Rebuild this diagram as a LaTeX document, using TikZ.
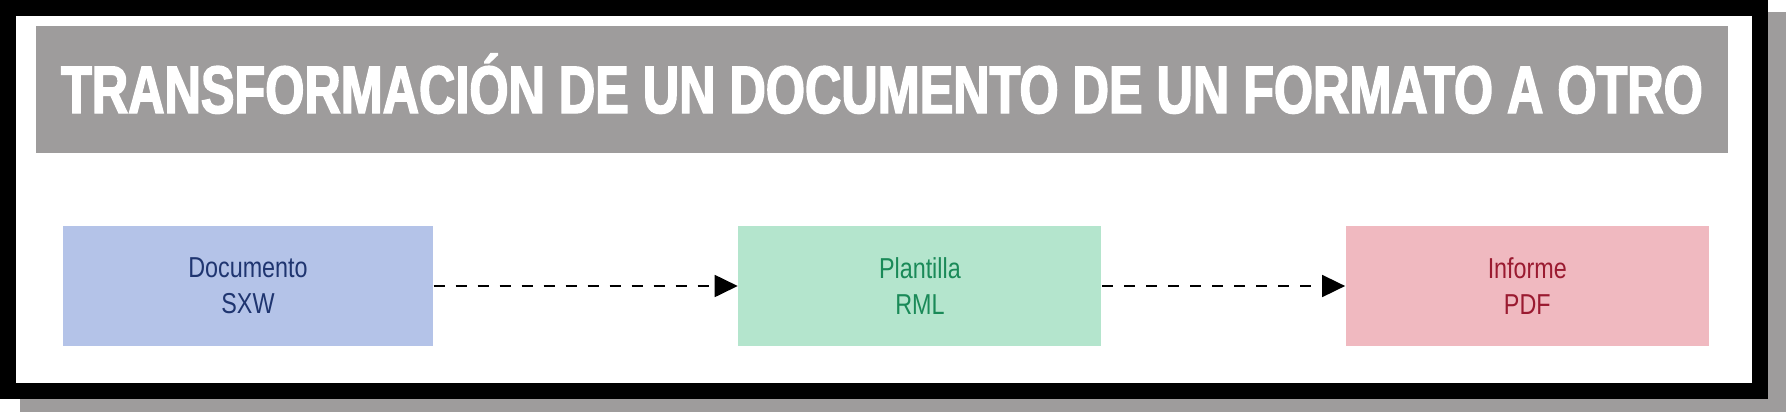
\documentclass[tikz,border=0pt]{standalone}
\usepackage{fontspec}
\setmainfont{Liberation Sans}[FakeStretch=0.81]
\newfontfamily\titlefont{Liberation Sans}[FakeStretch=0.75, FakeBold=2.2]
\usetikzlibrary{arrows.meta, positioning}

\definecolor{shadowgray}{HTML}{9E9C9C}
\definecolor{docfill}{HTML}{B4C3E8}
\definecolor{doctext}{HTML}{1F3570}
\definecolor{tplfill}{HTML}{B4E5CD}
\definecolor{tpltext}{HTML}{1A8A58}
\definecolor{pdffill}{HTML}{F0B9C0}
\definecolor{pdftext}{HTML}{9A1A30}

\begin{document}
\begin{tikzpicture}[x=0.1mm, y=-0.1mm,
        block/.style={rectangle, minimum height=12mm, text centered, align=center,
            font=\fontsize{8.2pt}{10.25pt}\selectfont, inner sep=0pt},
        line/.style={draw, dashed, dash pattern=on 1.1mm off 1.1mm, line width=0.18mm,
            -{Triangle[length=2.3mm, width=2.2mm]}}]

        \useasboundingbox (0,0) rectangle (1786,412);
        % frame with shadow
        \fill[shadowgray] (20,12) rectangle (1786,412);
        \draw[line width=1.6mm, fill=white] (8,8) rectangle (1759.5,391);
        \fill[shadowgray] (36,26) rectangle (1728,153);
        \node[anchor=base, text=white, inner sep=0pt,
            font=\titlefont\bfseries\fontsize{19.1pt}{22pt}\selectfont] (title) at (882,113)
            {TRANSFORMACIÓN DE UN DOCUMENTO DE UN FORMATO A OTRO};

        \node [block, fill=docfill, text=doctext, minimum width=37mm] (doc) at (248,286) {Documento\\SXW};
        \node [block, fill=tplfill, text=tpltext, minimum width=36.3mm, right=30.4mm of doc] (tpl) {Plantilla\\RML};
        \node [block, fill=pdffill, text=pdftext, minimum width=36.3mm, right=24.3mm of tpl] (pdf) {Informe\\PDF};

        \path [line] (doc) -- (tpl);
        \path [line] (tpl) -- (pdf);
    \end{tikzpicture}
\end{document}
